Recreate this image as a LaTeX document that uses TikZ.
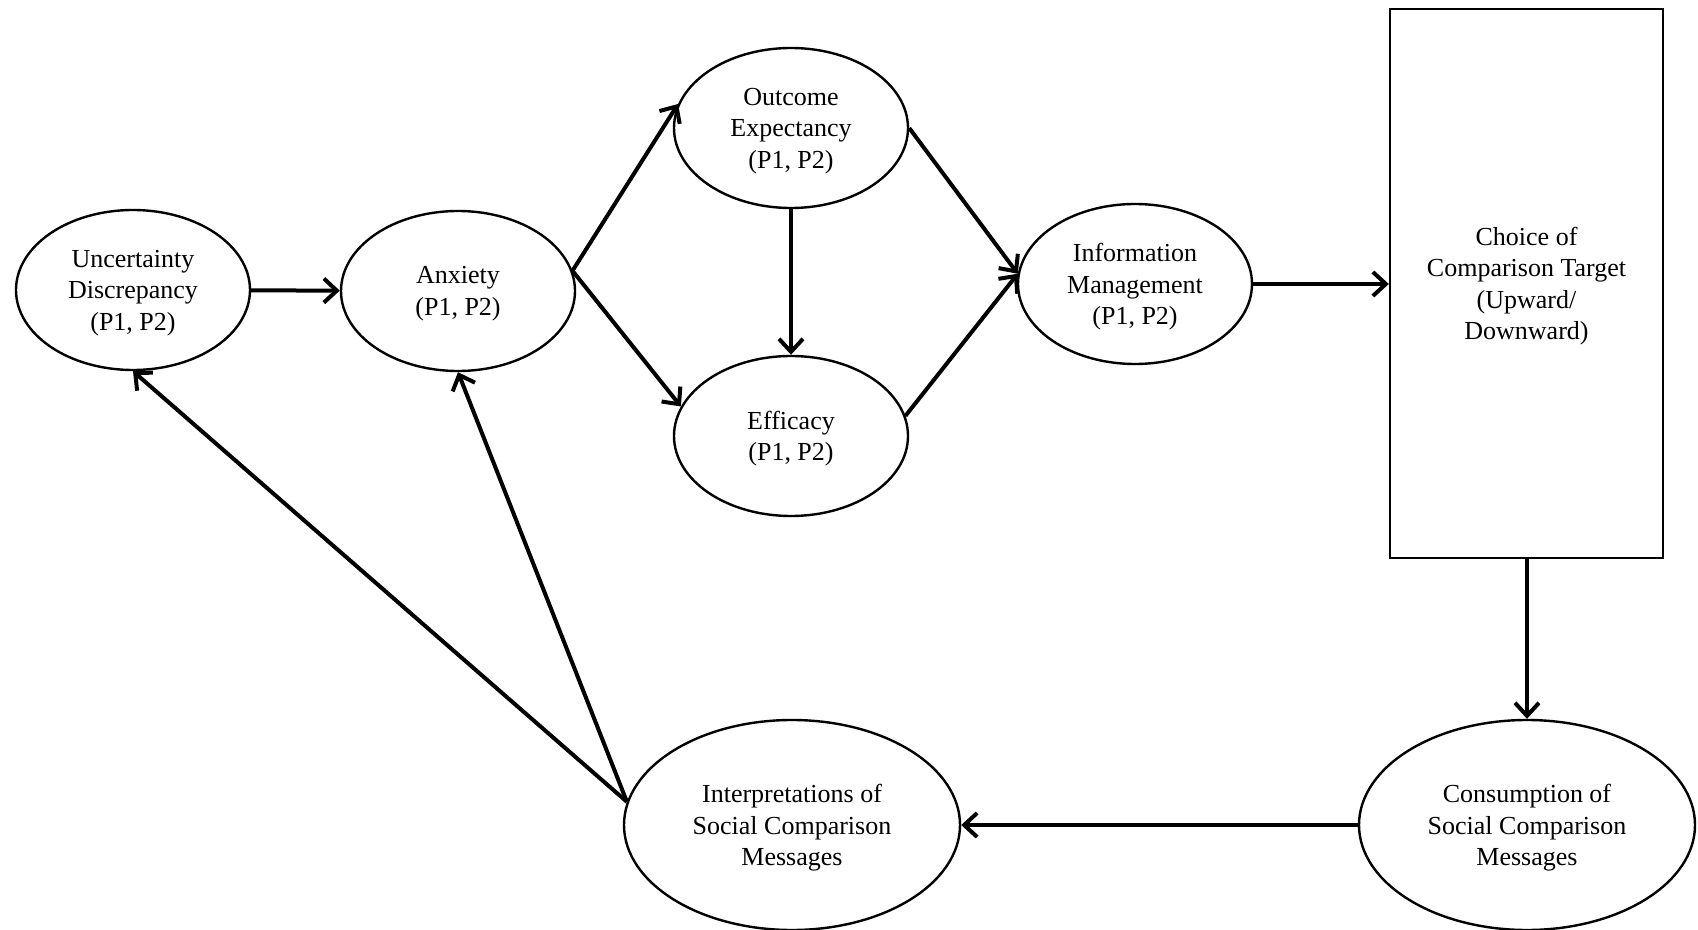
\documentclass[tikz,border=0pt]{standalone}
\usepackage{fontspec}
\setmainfont{Liberation Serif}
\usepackage{tikz}
\usetikzlibrary{shapes.geometric,arrows.meta}

\begin{document}
\begin{tikzpicture}[
        x=0.5pt, y=-0.5pt, % one unit per pixel of the figure
        state/.style={ellipse, draw, line width=1.2pt, minimum width=117pt, minimum height=80pt,
            align=center, text depth=0pt, font=\fontsize{13}{15.75}\selectfont},
        bigstate/.style={state, minimum width=168pt, minimum height=105pt},
        flow/.style={-{Straight Barb[length=6.5pt,width=12pt]}, line width=2pt},
    ]
        \useasboundingbox (0,0) rectangle (1698,930);

        % Define nodes
        \node[state] (unc) at (133,290) {Uncertainty\\Discrepancy\\(P1, P2)};
        \node[state] (anx) at (458,291) {Anxiety\\(P1, P2)};
        \node[state] (out) at (791,128) {Outcome\\Expectancy\\(P1, P2)};
        \node[state] (eff) at (791,436) {Efficacy\\(P1, P2)};
        \node[state] (info) at (1135,284) {Information\\Management\\(P1, P2)};
        \node[draw, line width=1.2pt, minimum width=136.5pt, minimum height=274.5pt, align=center,
            text depth=0pt, font=\fontsize{13}{15.75}\selectfont] (target) at (1526.5,283.5)
            {Choice of\\Comparison Target\\(Upward/\\Downward)};
        \node[bigstate] (cons) at (1527,825) {Consumption of\\Social Comparison\\Messages};
        \node[bigstate] (interp) at (792,825) {Interpretations of\\Social Comparison\\Messages};

        % Define arrows
        \draw[flow] (unc) -- (anx);
        \draw[flow] (anx.10) -- (out.168);
        \draw[flow] (anx.10) -- (eff.165);
        \draw[flow] (out) -- (eff);
        \draw[flow] (out.east) -- (info.175);
        \draw[flow] (eff.10) -- (info.175);
        \draw[flow] (info) -- (info -| target.west);
        \draw[flow] (target.south -| cons) -- (cons.north);
        \draw[flow] (cons) -- (interp);
        \draw[flow] (interp.172) -- (unc.south);
        \draw[flow] (interp.172) -- (anx.south);
    \end{tikzpicture}
\end{document}
